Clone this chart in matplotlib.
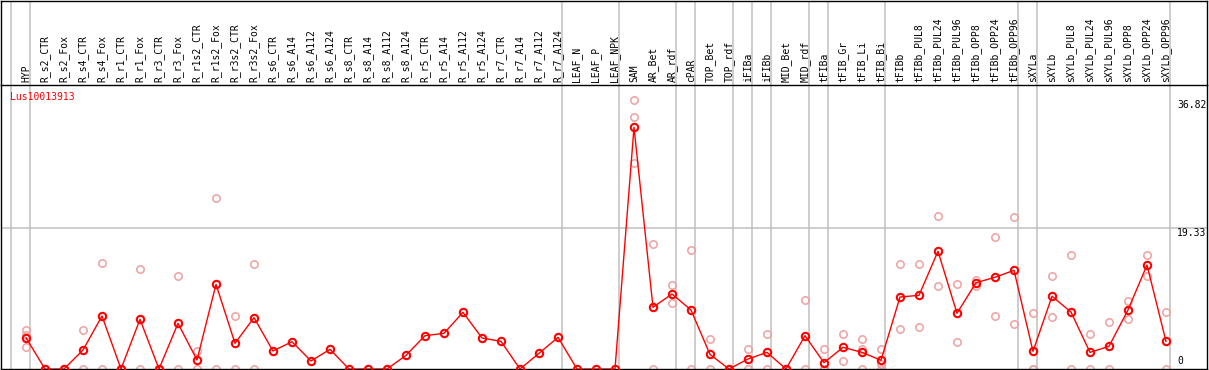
import numpy as np
import matplotlib
matplotlib.use('Agg')
import matplotlib.pyplot as plt

gene = 'Lus10013913'

samples = ['HYP', 'R_s2_CTR', 'R_s2_Fox', 'R_s4_CTR', 'R_s4_Fox', 'R_r1_CTR', 'R_r1_Fox',
           'R_r3_CTR', 'R_r3_Fox', 'R_r1s2_CTR', 'R_r1s2_Fox', 'R_r3s2_CTR', 'R_r3s2_Fox',
           'R_s6_CTR', 'R_s6_A14', 'R_s6_A112', 'R_s6_A124', 'R_s8_CTR', 'R_s8_A14',
           'R_s8_A112', 'R_s8_A124', 'R_r5_CTR', 'R_r5_A14', 'R_r5_A112', 'R_r5_A124',
           'R_r7_CTR', 'R_r7_A14', 'R_r7_A112', 'R_r7_A124', 'LEAF_N', 'LEAF_P', 'LEAF_NPK',
           'SAM', 'AR_Bet', 'AR_rdf', 'cPAR', 'TOP_Bet', 'TOP_rdf', 'iFIBa', 'iFIBb',
           'MID_Bet', 'MID_rdf', 'tFIBa', 'tFIB_Gr', 'tFIB_Li', 'tFIB_Bi', 'tFIBb',
           'tFIBb_PUL8', 'tFIBb_PUL24', 'tFIBb_PUL96', 'tFIBb_OPP8', 'tFIBb_OPP24',
           'tFIBb_OPP96', 'sXYLa', 'sXYLb', 'sXYLb_PUL8', 'sXYLb_PUL24', 'sXYLb_PUL96',
           'sXYLb_OPP8', 'sXYLb_OPP24', 'sXYLb_OPP96']

# mean expression per sample
means = [4.29, 0, 0, 2.6, 7.27, 0, 6.81, 0, 6.26, 1.23, 11.61, 3.52, 7.04,
         2.47, 3.74, 1.1, 2.7, 0, 0, 0, 1.87, 4.57, 4.89, 7.77, 4.25, 3.79, 0, 2.15, 4.34,
         0, 0, 0,
         33.14, 8.46, 10.28, 8.09, 2.0, 0, 1.37, 2.28, 0, 4.57, 0.86, 2.97, 2.28, 1.2,
         9.87, 10.1, 16.14, 7.64, 11.83, 12.57, 13.53, 2.43,
         9.97, 7.81, 2.28, 3.11, 8.09, 14.26, 3.79]

# individual replicates per sample
replicates = [[5.3, 4.6, 3.0], [0, 0], [0, 0], [5.35, 0], [14.6, 0], [0, 0], [13.67, 0],
              [0, 0], [12.75, 0], [2.47, 0], [23.4, 0], [7.27, 0], [14.4, 0],
              [], [], [], [], [], [], [], [], [], [], [], [], [], [], [], [],
              [], [], [],
              [36.82, 34.5, 28.2], [17.1, 0], [11.5, 9.0], [16.3, 0], [4.07, 0], [0, 0],
              [2.74, 0], [4.75, 0], [0, 0], [9.46, 0], [2.7, 0, 0], [4.8, 1.1],
              [4.07, 2.8, 0], [2.78, 0.64, 0],
              [14.4, 5.48], [14.4, 5.72], [20.98, 11.38], [11.65, 3.66], [12.2, 11.38],
              [18.06, 7.22], [20.8, 6.13], [7.64, 0, 0],
              [12.7, 7.09], [15.6, 0], [4.75, 0], [6.4, 0], [9.32, 6.81], [15.6, 12.8],
              [7.81, 0]]

# last sample index of each group (-1 = line before first sample)
group_ends = [-1, 0, 28, 31, 34, 35, 37, 38, 39, 41, 42, 45, 52, 53, 60]

y_ticks = [36.82, 19.33, 0]

W, H = 1209, 370
fig = plt.figure(figsize=(W / 100, H / 100), dpi=100)

# pixel layout
x0_px, step_px = 26, 19
left_px, right_px = 1, 1207
header_px, bottom_px = 85, 369
px_per_unit = 141 / 19.33

xlim = ((left_px - x0_px) / step_px, (right_px - x0_px) / step_px)
ax_w = (right_px - left_px) / W

ax = fig.add_axes([left_px / W, (H - bottom_px) / H, ax_w, (bottom_px - header_px) / H])
hd = fig.add_axes([left_px / W, (H - header_px) / H, ax_w, (header_px - 1) / H])

grid_c = '#c0c0c0'
mono = 'DejaVu Sans Mono'

for a in (ax, hd):
    a.set_xlim(*xlim)
    a.set_xticks([])
    a.set_yticks([])
    for s in a.spines.values():
        s.set_linewidth(1.0)
        s.set_color('black')
    for g in group_ends:
        a.axvline(g + 0.22, color=grid_c, lw=1.1, zorder=0)

ax.spines['top'].set_visible(False)
ax.set_ylim(0, (bottom_px - header_px) / px_per_unit)
ax.axhline(y_ticks[1], color=grid_c, lw=1.1, zorder=0)

# header labels
hd.set_ylim(0, 1)
for i, name in enumerate(samples):
    hd.text(i, 0.03, name, rotation=90, ha='center', va='bottom',
            fontsize=7, family=mono, color='black')

xs = np.arange(len(samples))

# replicates
rx, ry = [], []
for i, reps in enumerate(replicates):
    for v in reps:
        rx.append(i)
        ry.append(v)
ax.plot(rx, ry, 'o', ms=5.3, mfc='none', mec='#f0a0a0', mew=1.1, zorder=2)

# means
ax.plot(xs, means, '-', color='red', lw=1.0, zorder=3)
ax.plot(xs, means, 'o', ms=5.3, mfc='none', mec='red', mew=1.5, zorder=4)

# labels
lab_x = (1177 - x0_px) / step_px
ax.text(lab_x, y_ticks[0], f'{y_ticks[0]:.2f}', ha='left', va='top', fontsize=7, family=mono)
ax.text(lab_x, y_ticks[1], f'{y_ticks[1]:.2f}', ha='left', va='top', fontsize=7, family=mono)
ax.text(lab_x, 0.4, '0', ha='left', va='bottom', fontsize=7, family=mono)

ax.text((10 - x0_px) / step_px, (bottom_px - 97) / px_per_unit, gene, ha='left', va='center',
        fontsize=7, family=mono, color='red')

plt.savefig('out.png', dpi=100)
